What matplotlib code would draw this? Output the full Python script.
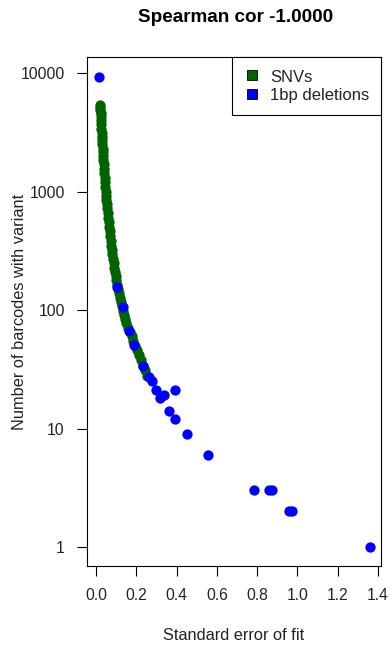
import matplotlib.pyplot as plt
from matplotlib.lines import Line2D
from matplotlib.ticker import FixedLocator, FixedFormatter, NullLocator

plt.rcParams['font.family'] = ['Liberation Sans', 'DejaVu Sans']

# SNVs: number of barcodes and standard error of fit
snv_counts = [5400, 5200, 4900, 4600, 4300, 4000, 3700, 3400, 3100, 2900, 2700, 2500,
              2300, 2150, 2000, 1850, 1700, 1550, 1420, 1300, 1200, 1100, 1000, 920,
              850, 780, 720, 660, 600, 550, 500, 460, 420, 385, 350, 320, 295, 270,
              248, 228, 210, 193, 178, 164, 150, 138, 127, 117, 108, 99, 91, 84, 77,
              71, 65, 60, 55, 50, 46, 42, 38, 34, 31, 28]
snv_se = [0.0200, 0.0207, 0.0215, 0.0225, 0.0235, 0.0245, 0.0257, 0.0270, 0.0283,
          0.0292, 0.0303, 0.0314, 0.0326, 0.0337, 0.0350, 0.0363, 0.0378, 0.0394,
          0.0410, 0.0425, 0.0439, 0.0454, 0.0471, 0.0485, 0.0500, 0.0524, 0.0547,
          0.0572, 0.0600, 0.0625, 0.0652, 0.0676, 0.0702, 0.0728, 0.0755, 0.0780,
          0.0812, 0.0847, 0.0880, 0.0912, 0.0944, 0.0976, 0.1008, 0.1039, 0.1074,
          0.1121, 0.1172, 0.1223, 0.1273, 0.1326, 0.1379, 0.1429, 0.151, 0.159,
          0.168, 0.176, 0.184, 0.194, 0.202, 0.212, 0.222, 0.234, 0.244, 0.255]

# 1bp deletions
del_counts = [9300, 157, 107, 66, 51, 34, 27, 25, 21, 21, 19, 18, 14, 12, 9, 6,
              3, 3, 3, 2, 2, 1]
del_se = [0.0134, 0.106, 0.135, 0.165, 0.190, 0.234, 0.265, 0.277, 0.296, 0.391,
          0.339, 0.318, 0.361, 0.391, 0.453, 0.556, 0.786, 0.860, 0.875, 0.960,
          0.972, 1.360]

x_ticks = [0.0, 0.2, 0.4, 0.6, 0.8, 1.0, 1.2, 1.4]
y_ticks = [1, 10, 100, 1000, 10000]
y_labels = ['1', '10', '100', '1000', '10000']

fig = plt.figure(figsize=(3.92, 6.48), dpi=100)
ax = fig.add_axes([87 / 392, 1 - 566 / 648, 294 / 392, 509 / 648])

ax.scatter(snv_se, snv_counts, s=55, color='#006400', linewidths=0, zorder=2)
ax.scatter(del_se, del_counts, s=55, color='#0000ff', linewidths=0, zorder=3)

ax.set_yscale('log')
ax.set_xlim(-0.045, 1.415)
ax.set_ylim(10 ** -0.16, 10 ** 4.135)

ax.xaxis.set_major_locator(FixedLocator(x_ticks))
ax.set_xticklabels(['%.1f' % v for v in x_ticks])
ax.yaxis.set_major_locator(FixedLocator(y_ticks))
ax.yaxis.set_major_formatter(FixedFormatter(y_labels))
ax.yaxis.set_minor_locator(NullLocator())

ax.tick_params(axis='both', direction='out', length=7, width=0.8, labelsize=11.3,
               color='black', labelcolor='#222222')
ax.tick_params(axis='x', pad=9)
ax.tick_params(axis='y', pad=9)
for sp in ax.spines.values():
    sp.set_linewidth(0.8)
    sp.set_color('black')

ax.set_xlabel('Standard error of fit', fontsize=11.8, color='#222222')
ax.set_ylabel('Number of barcodes with variant', fontsize=11.8, color='#222222')
ax.xaxis.set_label_coords(0.5, (566 - 635) / 509)
ax.xaxis.label.set_verticalalignment('center')
ax.yaxis.set_label_coords((20 - 87) / 294, 0.5)
ax.yaxis.label.set_verticalalignment('center')

fig.text(236 / 392, 1 - 18 / 648, 'Spearman cor -1.0000', ha='center', va='center',
         fontsize=13.6, fontweight='bold')

handles = [Line2D([], [], linestyle='none', marker='s', markersize=6.5,
                  markerfacecolor='#006400', markeredgecolor='black', markeredgewidth=0.6),
           Line2D([], [], linestyle='none', marker='s', markersize=6.5,
                  markerfacecolor='#0000ff', markeredgecolor='black', markeredgewidth=0.6)]
leg = ax.legend(handles, ['SNVs', '1bp deletions'], loc='upper right',
                bbox_to_anchor=(1, 1), borderaxespad=0, fancybox=False,
                framealpha=1, edgecolor='black', fontsize=12, handlelength=0.99,
                handleheight=1.0, handletextpad=0.6, labelspacing=0.14, borderpad=0.7)
leg.get_frame().set_linewidth(0.8)
for t in leg.get_texts():
    t.set_color('#222222')

fig.savefig('out.png', dpi=100)
